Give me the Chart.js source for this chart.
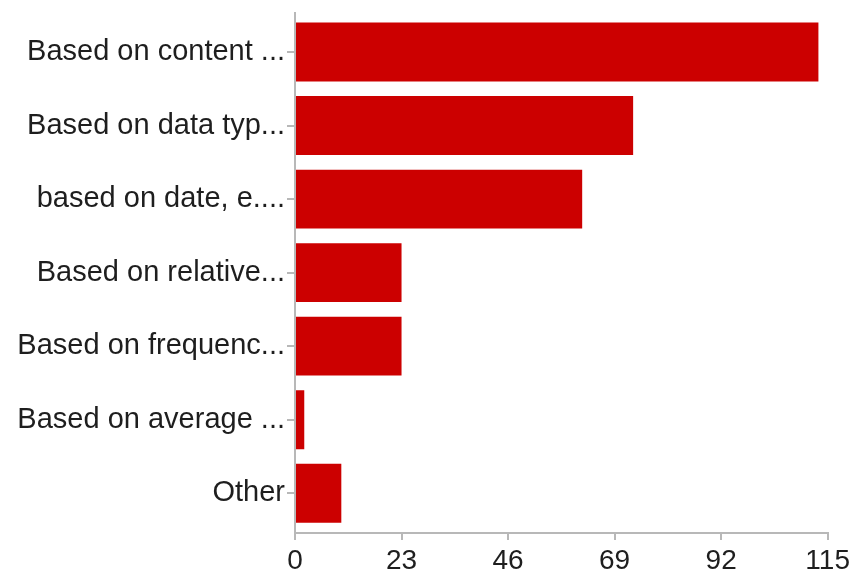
<!DOCTYPE html>
<html>
<head>
<meta charset="utf-8">
<script src="https://cdn.jsdelivr.net/npm/chart.js@4/dist/chart.umd.min.js"></script>
<style>
  html, body { margin: 0; padding: 0; background: #ffffff; }
  #wrap { width: 854px; height: 577px; position: relative; }
</style>
</head>
<body>
<div id="wrap"><canvas id="c" width="854" height="577"></canvas></div>
<script>
const categories = [
  "Based on content ...",
  "Based on data typ...",
  "based on date, e....",
  "Based on relative...",
  "Based on frequenc...",
  "Based on average ...",
  "Other"
];
const counts = [113, 73, 62, 23, 23, 2, 10];
const xTicks = [0, 23, 46, 69, 92, 115];

const axisColor = '#b8b8b8';
const textColor = '#1e1e1e';
const fontFamily = '"Liberation Sans", Arial, Helvetica, sans-serif';

new Chart(document.getElementById('c'), {
  type: 'bar',
  data: {
    labels: categories,
    datasets: [{
      data: counts,
      backgroundColor: '#cc0000',
      borderWidth: 0,
      barPercentage: 0.8,
      categoryPercentage: 1.0
    }]
  },
  options: {
    indexAxis: 'y',
    responsive: false,
    animation: false,
    devicePixelRatio: 1,
    layout: { padding: { top: 13, right: 25, left: 0, bottom: 0 } },
    plugins: { legend: { display: false }, tooltip: { enabled: false } },
    scales: {
      x: {
        min: 0,
        max: xTicks[xTicks.length - 1],
        afterBuildTicks: (scale) => { scale.ticks = xTicks.map(v => ({ value: v })); },
        afterFit: (scale) => { scale.height = 44; scale.paddingLeft = 0; },
        grid: { drawOnChartArea: false, drawTicks: true, tickLength: 7, color: axisColor, lineWidth: 2 },
        border: { display: true, color: axisColor, width: 2 },
        ticks: { color: textColor, font: { family: fontFamily, size: 28 }, padding: 4, maxRotation: 0 }
      },
      y: {
        afterBuildTicks: (scale) => {
          // axis spans a little more than the 7 category bands
          scale._startValue = -0.53;
          scale._valueRange = 7.07;
        },
        afterFit: (scale) => { scale.width = 295; scale.paddingTop = 0; scale.paddingBottom = 0; },
        grid: { offset: false, drawOnChartArea: false, drawTicks: true, tickLength: 8, color: axisColor, lineWidth: 2 },
        border: { display: true, color: axisColor, width: 2 },
        ticks: { color: textColor, font: { family: fontFamily, size: 29 }, padding: 2, autoSkip: false }
      }
    }
  }
});
</script>
</body>
</html>
